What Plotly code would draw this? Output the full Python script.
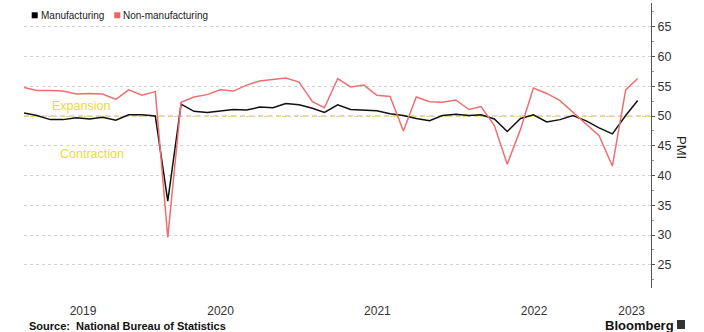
import pandas as pd
import plotly.graph_objects as go

# China official PMI readings, monthly, March 2019 - February 2023
months = pd.date_range("2019-03-31", periods=48, freq=pd.offsets.MonthEnd())

manufacturing = [
    50.5, 50.1, 49.4, 49.4, 49.7, 49.5, 49.8, 49.3, 50.2, 50.2,              # 2019 Mar-Dec
    50.0, 35.7, 52.0, 50.8, 50.6, 50.9, 51.1, 51.0, 51.5, 51.4, 52.1, 51.9,  # 2020
    51.3, 50.6, 51.9, 51.1, 51.0, 50.9, 50.4, 50.1, 49.6, 49.2, 50.1, 50.3,  # 2021
    50.1, 50.2, 49.5, 47.4, 49.6, 50.2, 49.0, 49.4, 50.1, 49.2, 48.0, 47.0,  # 2022
    50.1, 52.6,                                                              # 2023
]
non_manufacturing = [
    54.8, 54.3, 54.3, 54.2, 53.7, 53.8, 53.7, 52.8, 54.4, 53.5,
    54.1, 29.6, 52.3, 53.2, 53.6, 54.4, 54.2, 55.2, 55.9, 56.2, 56.4, 55.7,
    52.4, 51.4, 56.3, 54.9, 55.2, 53.5, 53.3, 47.5, 53.2, 52.4, 52.3, 52.7,
    51.1, 51.6, 48.4, 41.9, 47.8, 54.7, 53.8, 52.6, 50.6, 48.7, 46.7, 41.6,
    54.4, 56.3,
]
series_names = ["Manufacturing", "Non-manufacturing"]
series_colors = ["#111111", "#ed7070"]
legend_colors = ["#000000", "#f06464"]
year_labels = ["2019", "2020", "2021", "2022", "2023"]
y_ticks = [25, 30, 35, 40, 45, 50, 55, 60, 65]
threshold = 50

x_start = pd.Timestamp("2019-03-31")
x_end = pd.Timestamp("2023-03-31")

# year labels sit in the middle of each year's visible span
year_pos = []
for lab in year_labels:
    y0 = max(pd.Timestamp(f"{int(lab) - 1}-12-31"), x_start)
    y1 = min(pd.Timestamp(f"{lab}-12-31"), x_end)
    year_pos.append(y0 + (y1 - y0) / 2)

fig = go.Figure()
for name, vals, col in zip(series_names, [manufacturing, non_manufacturing], series_colors):
    fig.add_trace(go.Scatter(x=months, y=vals, name=name, mode="lines",
                             line=dict(color=col, width=1.5), showlegend=False))

# expansion / contraction threshold, above the grid but under the lines
fig.add_shape(type="line", xref="paper", yref="y", x0=0, x1=1, y0=threshold, y1=threshold,
              line=dict(color="#f0dc30", width=1.5, dash="5px,4px"), layer="between")

PW, PH, L, T = 627, 285, 24, 3


def px(x):
    return (x - L) / PW


def py(y):
    return 1 - (y - T) / PH


annotations = []
shapes = []
# legend box
shapes.append(dict(type="rect", xref="paper", yref="paper", x0=px(24), x1=px(213),
                   y0=py(25), y1=py(4), fillcolor="#efefef", line=dict(width=0), layer="below"))
leg_sq_x = [31.7, 114.3]
leg_tx_x = [39, 121]
for name, col, sx, tx in zip(series_names, legend_colors, leg_sq_x, leg_tx_x):
    shapes.append(dict(type="rect", xref="paper", yref="paper", x0=px(sx), x1=px(sx + 6),
                       y0=py(18.3), y1=py(12.3), fillcolor=col, line=dict(width=0)))
    annotations.append(dict(text=name, xref="paper", yref="paper", x=px(tx), y=py(15.5),
                            xanchor="left", yanchor="middle", showarrow=False,
                            font=dict(size=10, color="#222222", family="Liberation Sans")))

annotations += [
    dict(text="Expansion", xref="paper", yref="paper", x=px(50), y=py(106), xanchor="left",
         yanchor="middle", showarrow=False,
         font=dict(size=12.5, color="#e9da3a", family="Liberation Sans")),
    dict(text="Contraction", xref="paper", yref="paper", x=px(58), y=py(154), xanchor="left",
         yanchor="middle", showarrow=False,
         font=dict(size=12.5, color="#e9da3a", family="Liberation Sans")),
    dict(text="PMI", xref="paper", yref="paper", x=px(682), y=py(147), xanchor="center",
         yanchor="middle", textangle=90, showarrow=False,
         font=dict(size=13, color="#222222", family="Liberation Sans")),
    dict(text="Source:  National Bureau of Statistics", xref="paper", yref="paper",
         x=px(27), y=py(326), xanchor="left", yanchor="middle", showarrow=False,
         font=dict(size=11, color="#111111", family="Liberation Sans", weight="bold")),
    dict(text="Bloomberg", xref="paper", yref="paper", x=px(603), y=py(325.5), xanchor="left",
         yanchor="middle", showarrow=False,
         font=dict(size=13, color="#111111", family="Liberation Sans", weight="bold")),
]
# terminal icon next to the wordmark
shapes.append(dict(type="rect", xref="paper", yref="paper", x0=px(677), x1=px(685),
                   y0=py(329), y1=py(320), fillcolor="#333333", line=dict(width=0)))

fig.update_layout(
    width=704, height=332,
    margin=dict(l=24, r=53, t=3, b=44),
    paper_bgcolor="white", plot_bgcolor="white",
    font=dict(family="Liberation Sans", color="#333333"),
    shapes=shapes, annotations=annotations,
    xaxis=dict(range=[x_start, x_end], tickvals=year_pos, ticktext=year_labels,
               showgrid=False, zeroline=False, showline=False, ticks="",
               ticklabelstandoff=14, tickfont=dict(size=12, color="#333333")),
    yaxis=dict(side="right", range=[21.1, 69], tickvals=y_ticks, ticks="outside", ticklen=3,
               tickcolor="#555555", showline=True, linecolor="#555555", linewidth=1,
               showgrid=True, gridcolor="#d2d2d2", griddash="dot", gridwidth=1,
               zeroline=False, tickfont=dict(size=12.5, color="#333333"),
               minor=dict(dtick=2.5, tick0=0, ticks="outside", ticklen=2, tickcolor="#999999",
                          showgrid=False)),
)

fig.write_html("out.html")
